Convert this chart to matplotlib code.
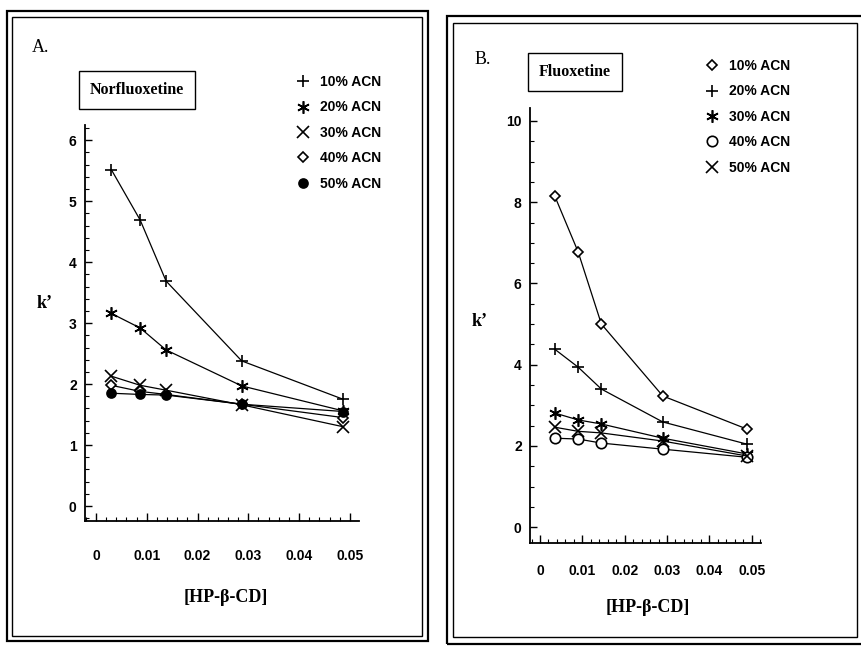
import matplotlib
matplotlib.use("Agg")
import matplotlib.pyplot as plt
from matplotlib.lines import Line2D
from matplotlib.patches import Rectangle
from matplotlib.ticker import MultipleLocator

W, H = 862, 646

# capacity factor k' against HP-beta-CD concentration (M)
norflu_x = [0.0030, 0.0087, 0.0138, 0.0287, 0.0487]
norflu_10 = [5.52, 4.69, 3.69, 2.38, 1.75]
norflu_20 = [3.16, 2.92, 2.56, 1.97, 1.56]
norflu_30 = [2.13, 1.98, 1.90, 1.66, 1.30]
norflu_40 = [1.98, 1.88, 1.83, 1.67, 1.45]
norflu_50 = [1.85, 1.83, 1.82, 1.67, 1.55]

flu_x = [0.0035, 0.0090, 0.0145, 0.0290, 0.0490]
flu_10 = [8.15, 6.78, 5.00, 3.23, 2.41]
flu_20 = [4.38, 3.94, 3.40, 2.59, 2.04]
flu_30 = [2.81, 2.64, 2.54, 2.19, 1.80]
flu_40 = [2.19, 2.17, 2.07, 1.92, 1.72]
flu_50 = [2.46, 2.36, 2.32, 2.12, 1.75]

acn_labels = ["10% ACN", "20% ACN", "30% ACN", "40% ACN", "50% ACN"]

ASTER = (6, 2, 0)
norflu_marks = [("+", 9, "none"), (ASTER, 9, "black"), ("x", 8, "none"),
                ("D", 5, "white"), ("o", 6.5, "black")]
flu_marks = [("D", 5.5, "white"), ("+", 9, "none"), (ASTER, 9, "black"),
             ("o", 7.5, "white"), ("x", 8, "none")]

SERIF = ["Liberation Serif", "DejaVu Serif"]
SANS = ["Liberation Sans", "DejaVu Sans"]


def fx(px):
    return px / W


def fy(py):
    return 1 - py / H


def frame(fig, x0, y0, x1, y1, lw):
    fig.add_artist(Rectangle((fx(x0), fy(y1)), fx(x1 - x0), (y1 - y0) / H,
                             transform=fig.transFigure, fill=False,
                             ec="black", lw=lw, clip_on=False))


def panel(fig, box, xs, series, marks, xlim, ylim, yticks, yminor, xpad):
    ax = fig.add_axes(box)
    for ys, (m, ms, fc) in zip(series, marks):
        ax.plot(xs, ys, color="black", lw=0.9, marker=m, ms=ms,
                mfc=fc, mec="black", mew=1.2, clip_on=False)
    ax.set_xlim(*xlim)
    ax.set_ylim(*ylim)
    for s in ("top", "right"):
        ax.spines[s].set_visible(False)
    for s in ("left", "bottom"):
        ax.spines[s].set_linewidth(1.3)
    ax.set_xticks([0, 0.01, 0.02, 0.03, 0.04, 0.05])
    ax.set_xticklabels(["0", "0.01", "0.02", "0.03", "0.04", "0.05"])
    ax.set_yticks(yticks)
    ax.xaxis.set_minor_locator(MultipleLocator(0.002))
    ax.yaxis.set_minor_locator(MultipleLocator(yminor))
    ax.tick_params(axis="x", which="major", direction="in", length=6,
                   width=1, pad=xpad)
    ax.tick_params(axis="y", which="major", direction="in", length=5,
                   width=1, pad=6)
    ax.tick_params(which="minor", direction="in", length=3, width=0.8)
    for lab in ax.get_xticklabels() + ax.get_yticklabels():
        lab.set_family(SANS)
        lab.set_fontweight("bold")
        lab.set_fontsize(10)
    ax.patch.set_alpha(0)
    return ax


def legend(fig, ax, marks, x, y):
    handles = [Line2D([], [], ls="none", marker=m, ms=ms, mfc=fc,
                      mec="black", mew=1.2) for m, ms, fc in marks]
    ax.legend(handles, acn_labels, loc="upper left",
              bbox_to_anchor=(fx(x), fy(y)), bbox_transform=fig.transFigure,
              frameon=False, borderpad=0, borderaxespad=0, handlelength=1.0,
              handletextpad=0.7, labelspacing=0.82,
              prop={"family": SANS, "weight": "bold", "size": 10})


fig = plt.figure(figsize=(W / 100, H / 100), dpi=100)

# panel frames (double ruled)
frame(fig, 7, 11, 428, 641, 1.6)
frame(fig, 12, 17, 422, 636, 1.0)
frame(fig, 447, 16, 870, 644, 1.6)
frame(fig, 453, 23, 857, 637, 1.0)

# A: norfluoxetine
ax_a = panel(fig, [fx(85), fy(521), fx(359 - 85), (521 - 125) / H],
             norflu_x, [norflu_10, norflu_20, norflu_30, norflu_40, norflu_50],
             norflu_marks, (-0.00217, 0.0518), (-0.246, 6.25),
             range(0, 7), 0.2, 20)
legend(fig, ax_a, norflu_marks, 296, 75)

# B: fluoxetine
ax_b = panel(fig, [fx(530), fy(543), fx(761 - 530), (543 - 108) / H],
             flu_x, [flu_10, flu_20, flu_30, flu_40, flu_50],
             flu_marks, (-0.00236, 0.0522), (-0.39, 10.32),
             range(0, 11, 2), 0.5, 15)
legend(fig, ax_b, flu_marks, 705, 59)

fig.text(fx(41), fy(47), "A.", family=SERIF, fontsize=13,
         ha="center", va="center")
fig.text(fx(483), fy(60), "B.", family=SERIF, fontsize=13,
         ha="center", va="center")

box = dict(boxstyle="square,pad=0.7", fc="white", ec="black", lw=1.0)
fig.text(fx(137), fy(90), "Norfluoxetine", family=SERIF, weight="bold",
         fontsize=11.5, ha="center", va="center", bbox=box)
fig.text(fx(575), fy(72), "Fluoxetine", family=SERIF, weight="bold",
         fontsize=11.5, ha="center", va="center", bbox=box)

fig.text(fx(45), fy(303), "k\u2019", family=SERIF, weight="bold",
         fontsize=13, ha="center", va="center")
fig.text(fx(480), fy(321), "k\u2019", family=SERIF, weight="bold",
         fontsize=13, ha="center", va="center")

fig.text(fx(226), fy(598), "[HP-\u03b2-CD]", family=SERIF, weight="bold",
         fontsize=13, ha="center", va="center")
fig.text(fx(648), fy(608), "[HP-\u03b2-CD]", family=SERIF, weight="bold",
         fontsize=13, ha="center", va="center")

fig.savefig("out.png", dpi=100)
